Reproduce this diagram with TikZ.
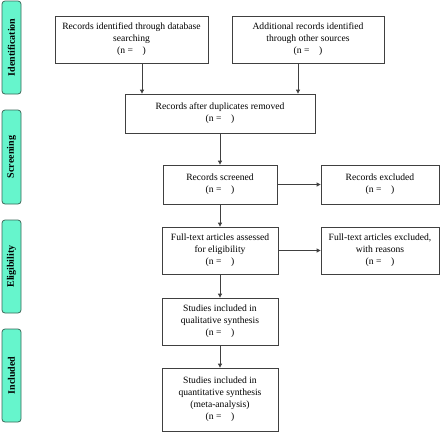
\documentclass[tikz,border=0pt]{standalone}
\usepackage{fontspec}
\setmainfont{Liberation Serif}
\usetikzlibrary{arrows.meta}
\definecolor{sidefill}{HTML}{66F5CC}
\definecolor{sidedraw}{HTML}{3A6A5A}
\definecolor{boxdraw}{HTML}{404040}
\begin{document}
\begin{tikzpicture}[x=1pt,y=-1pt,
  flowbox/.style={draw=boxdraw,line width=0.8pt,fill=white,align=center,inner sep=1pt,
    font=\fontsize{9.6}{12}\selectfont},
  sidebox/.style={draw=sidedraw,line width=0.8pt,fill=sidefill,rounded corners=3pt,
    minimum width=19pt,inner sep=0pt,font=\fontsize{10}{12}\selectfont\bfseries},
  arr/.style={draw=boxdraw,line width=0.8pt,-{Triangle[length=4pt,width=4pt]}}]
\useasboundingbox (0,0) rectangle (440,432);
% side labels
\node[sidebox,minimum height=93pt] (sid) at (11.5,47.5) {\rotatebox{90}{Identification}};
\node[sidebox,minimum height=94pt] (sscr) at (11.5,157) {\rotatebox{90}{Screening}};
\node[sidebox,minimum height=93pt] (selg) at (11.5,266.5) {\rotatebox{90}{Eligibility}};
\node[sidebox,minimum height=93pt] (sinc) at (11.5,375.5) {\rotatebox{90}{Included}};
% boxes
\node[flowbox,minimum width=153pt,minimum height=47pt] (b1) at (131.5,39.5)
  {Records identified through database\\searching\\(n =\ \ \ \ )};
\node[flowbox,minimum width=152pt,minimum height=47pt] (b2) at (308,39.5)
  {Additional records identified\\through other sources\\(n =\ \ \ \ )};
\node[flowbox,minimum width=190pt,minimum height=39pt] (b3) at (220,113.5)
  {Records after duplicates removed\\(n =\ \ \ \ )};
\node[flowbox,minimum width=114pt,minimum height=39pt] (b4) at (220,184.5)
  {Records screened\\(n =\ \ \ \ )};
\node[flowbox,minimum width=118pt,minimum height=39pt] (b5) at (380,184.5)
  {Records excluded\\(n =\ \ \ \ )};
\node[flowbox,minimum width=116pt,minimum height=47pt] (b6) at (220,250.5)
  {Full-text articles assessed\\for eligibility\\(n =\ \ \ \ )};
\node[flowbox,minimum width=118pt,minimum height=47pt] (b7) at (380,250.5)
  {Full-text articles excluded,\\with reasons\\(n =\ \ \ \ )};
\node[flowbox,minimum width=116pt,minimum height=47pt] (b8) at (220,321.5)
  {Studies included in\\qualitative synthesis\\(n =\ \ \ \ )};
\node[flowbox,minimum width=116pt,minimum height=63pt] (b9) at (220,399.5)
  {Studies included in\\quantitative synthesis\\(meta-analysis)\\(n =\ \ \ \ )};
% connectors
\draw[arr] ([xshift=10.5pt]b1.south) -- ([xshift=10.5pt]b1.south |- b3.north);
\draw[arr] ([xshift=-10pt]b2.south) -- ([xshift=-10pt]b2.south |- b3.north);
\draw[arr] (b3.south) -- (b4.north);
\draw[arr] (b4.east) -- (b5.west);
\draw[arr] (b4.south) -- (b6.north);
\draw[arr] (b6.east) -- (b7.west);
\draw[arr] (b6.south) -- (b8.north);
\draw[arr] (b8.south) -- (b9.north);
\end{tikzpicture}
\end{document}
